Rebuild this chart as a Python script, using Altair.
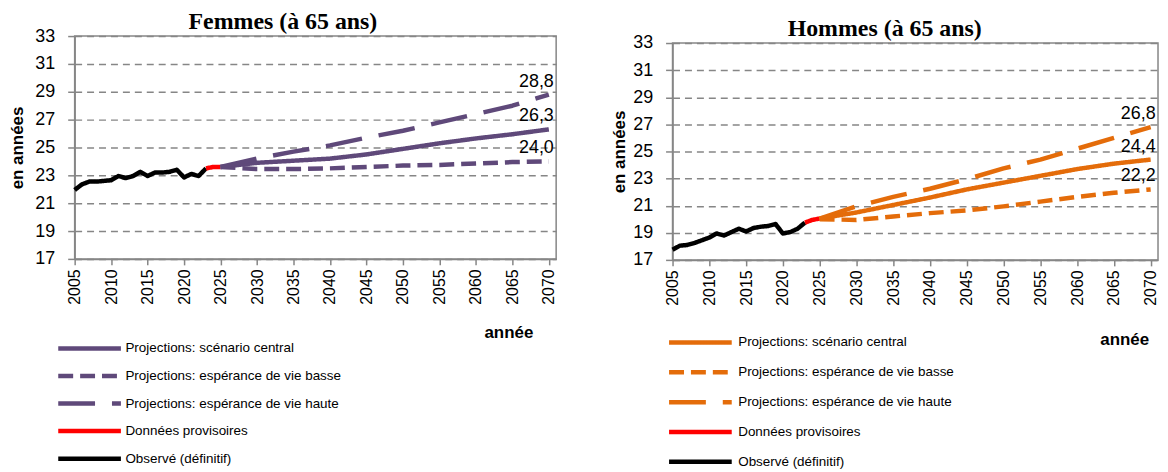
import altair as alt
import pandas as pd

# ---------------- data ----------------
years_obs = list(range(2005, 2024))
f_obs = [21.95, 22.35, 22.55, 22.55, 22.6, 22.65, 22.95, 22.8, 22.95, 23.25,
         22.95, 23.2, 23.2, 23.25, 23.4, 22.85, 23.1, 22.95, 23.5]
h_obs = [17.75, 18.05, 18.1, 18.25, 18.45, 18.65, 18.95, 18.8, 19.05, 19.3,
         19.1, 19.35, 19.45, 19.5, 19.65, 18.95, 19.05, 19.3, 19.75]

years_prov = [2023, 2024, 2025]
f_prov = [23.5, 23.6, 23.6]
h_prov = [19.75, 19.95, 20.05]

years_proj = [2025, 2030, 2035, 2040, 2045, 2050, 2055, 2060, 2065, 2070]
f_central = [23.6, 23.9, 24.05, 24.2, 24.5, 24.9, 25.3, 25.65, 25.95, 26.3]
f_low = [23.6, 23.45, 23.45, 23.5, 23.6, 23.7, 23.75, 23.85, 23.95, 24.0]
f_high = [23.6, 24.2, 24.7, 25.15, 25.7, 26.2, 26.8, 27.4, 28.0, 28.8]
h_central = [20.05, 20.5, 21.05, 21.6, 22.2, 22.7, 23.2, 23.7, 24.1, 24.4]
h_low = [20.0, 19.95, 20.2, 20.45, 20.65, 20.95, 21.3, 21.65, 21.95, 22.2]
h_high = [20.05, 20.95, 21.65, 22.25, 22.95, 23.75, 24.4, 25.2, 26.0, 26.8]

series_names = [
    "Projections: scénario central",
    "Projections: espérance de vie basse",
    "Projections: espérance de vie haute",
    "Données provisoires",
    "Observé (définitif)",
]
x_ticks = list(range(2005, 2071, 5))
y_ticks = list(range(17, 34, 2))

PURPLE = "#5F497A"
ORANGE = "#E46C0A"
RED = "#FF0000"
BLACK = "#000000"
GRID = "#868686"
TICK_FONT = "Liberation Sans"
LEGEND_FONT = "Liberation Sans"


def build_frame(obs, prov, central, low, high):
    rows = []
    for s, ys, vs in [
        (series_names[4], years_obs, obs),
        (series_names[3], years_prov, prov),
        (series_names[1], years_proj, low),
        (series_names[0], years_proj, central),
        (series_names[2], years_proj, high),
    ]:
        for y, v in zip(ys, vs):
            rows.append({"year": y, "value": v, "series": s})
    return pd.DataFrame(rows)


def panel(title, obs, prov, central, low, high, colour, width, height,
          title_offset, legend_x, legend_y, row_pad, label_off, annee_x, annee_y,
          ytitle_pad):
    df = build_frame(obs, prov, central, low, high)
    ends = pd.DataFrame({
        "year": [2070, 2070, 2070],
        "value": [high[-1], central[-1], low[-1]],
    })
    ends["label"] = [f"{v:.1f}".replace(".", ",") for v in ends["value"]]

    legend = alt.Legend(
        title=None, orient="none", legendX=legend_x, legendY=legend_y,
        direction="vertical", symbolType="stroke", symbolSize=3969,
        symbolStrokeWidth=4.5, clipHeight=16, rowPadding=row_pad,
        labelFont=LEGEND_FONT, labelFontSize=13.5, labelColor="#000000",
        labelOffset=label_off, labelLimit=400, padding=0,
    )
    x = alt.X(
        "year:Q",
        scale=alt.Scale(domain=[2005, 2071], nice=False, zero=False),
        axis=alt.Axis(
            values=x_ticks, tickCount=30, format="d", labelAngle=270,
            labelAlign="right", labelBaseline="middle", labelFontSize=16,
            labelFont=TICK_FONT, labelPadding=4, tickSize=6, grid=False,
            labelFlush=False, labelOverlap=False,
            title="année", titleX=annee_x, titleY=annee_y, titleAlign="center",
            titleBaseline="middle", titleFontSize=17, titleFontWeight="bold",
            titleFont=TICK_FONT,
        ),
    )
    y = alt.Y(
        "value:Q",
        scale=alt.Scale(domain=[17, 33], nice=False, zero=False),
        axis=alt.Axis(
            values=y_ticks, tickCount=30, format="d", grid=True,
            gridDash=[7, 5], gridColor=GRID, gridWidth=1.5, tickSize=7,
            labelPadding=13, labelFontSize=18, labelFont=TICK_FONT,
            title="en années", titleFontSize=17, titleFontWeight="bold",
            titleFont=TICK_FONT, titlePadding=ytitle_pad, labelFlush=False,
            labelOverlap=False,
        ),
    )
    lines = alt.Chart(df).mark_line(strokeWidth=4.5, strokeJoin="round").encode(
        x=x,
        y=y,
        color=alt.Color(
            "series:N",
            scale=alt.Scale(domain=series_names,
                            range=[colour, colour, colour, RED, BLACK]),
            legend=legend,
        ),
        strokeDash=alt.StrokeDash(
            "series:N",
            scale=alt.Scale(domain=series_names,
                            range=[[1, 0], [15, 7], [37, 17], [1, 0], [1, 0]]),
            legend=legend,
        ),
        detail="series:N",
    )
    labels = alt.Chart(ends).mark_text(
        align="right", baseline="middle", dx=5, dy=-13, fontSize=18,
        font=TICK_FONT, color="#000000",
    ).encode(x="year:Q", y="value:Q", text="label:N")

    return alt.layer(lines, labels).properties(
        width=width, height=height,
        title=alt.TitleParams(
            title, font="Liberation Serif", fontSize=24, fontWeight="bold",
            anchor="middle", frame="bounds", offset=title_offset, color="#000000",
        ),
    )


left = panel("Femmes (à 65 ans)", f_obs, f_prov, f_central, f_low, f_high,
             PURPLE, 484, 224, -7, -19, 306, 11.7, 2, 436, 74, 8)
right = panel("Hommes (à 65 ans)", h_obs, h_prov, h_central, h_low, h_high,
              ORANGE, 488, 218, -7, -6, 293, 14, 4, 454, 80, 4)

# invisible spacer: the right panel sits a few pixels lower than the left one
spacer = alt.Chart(pd.DataFrame({"a": [0]})).mark_point(opacity=0).properties(
    width=488, height=1, view=alt.ViewBackground(stroke="transparent")
)
right_col = alt.vconcat(spacer, right, spacing=-24).resolve_scale(
    color="independent", strokeDash="independent"
)

chart = alt.hconcat(left, right_col, spacing=52).resolve_scale(
    color="independent", strokeDash="independent"
).configure(padding=0, background="white").configure_view(
    stroke=GRID, strokeWidth=1.5
).configure_axis(
    domainColor=GRID, domainWidth=1.5, tickColor=GRID, tickWidth=1.5,
    labelColor="#000000", titleColor="#000000",
)

chart.save("out.html", embed_options={"renderer": "svg", "actions": False})
